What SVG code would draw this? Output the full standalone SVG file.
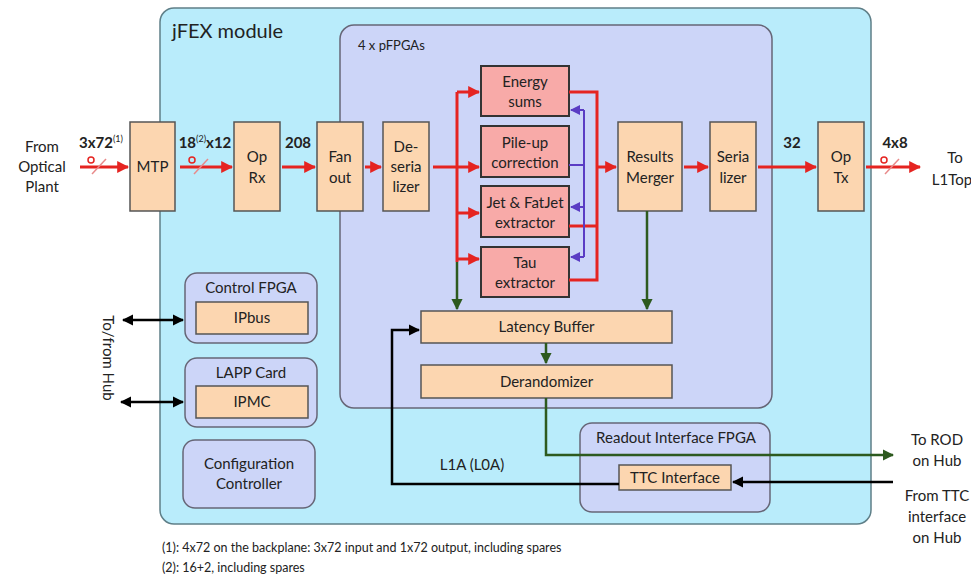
<svg xmlns="http://www.w3.org/2000/svg" width="971" height="578" viewBox="0 0 971 578">
<style>
text{font-family:Lato,"Open Sans","Liberation Sans",sans-serif;fill:#222;}
.lbl{font-size:15px;text-anchor:middle;}
.num{font-size:15px;font-weight:bold;text-anchor:middle;}
.peach{fill:#fcd6b0;stroke:#555;stroke-width:1.5;}
.pink{fill:#f8aaa8;stroke:#333;stroke-width:2;}
.grp{fill:#ccd5f8;stroke:#667;stroke-width:1.5;}
.red{stroke:#e52421;stroke-width:3;fill:none;}
.blue{stroke:#5a3cc4;stroke-width:2;fill:none;}
.green{stroke:#2d5a1f;stroke-width:2.5;fill:none;}
.blk{stroke:#000;stroke-width:2.5;fill:none;}
.slash{stroke:#e88a8a;stroke-width:1.5;fill:none;}
.ring{stroke:#e52421;stroke-width:1.5;fill:none;}
.foot{font-size:12.5px;}
</style>
<defs>
<marker id="ar" viewBox="0 0 10 10" refX="9" refY="5" markerWidth="4" markerHeight="4" orient="auto" markerUnits="strokeWidth"><path d="M0,0L10,5L0,10z" fill="#e52421"/></marker>
<marker id="ab" viewBox="0 0 10 10" refX="9" refY="5" markerWidth="5" markerHeight="5" orient="auto" markerUnits="strokeWidth"><path d="M0,0L10,5L0,10z" fill="#5a3cc4"/></marker>
<marker id="ag" viewBox="0 0 10 10" refX="9" refY="5" markerWidth="4.5" markerHeight="4.5" orient="auto" markerUnits="strokeWidth"><path d="M0,0L10,5L0,10z" fill="#2d5a1f"/></marker>
<marker id="ak" viewBox="0 0 10 10" refX="9" refY="5" markerWidth="4.5" markerHeight="4.5" orient="auto-start-reverse" markerUnits="strokeWidth"><path d="M0,0L10,5L0,10z" fill="#000"/></marker>
</defs>
<rect width="971" height="578" fill="#fff"/>
<g id="jfex-module">
<rect x="160" y="8" width="711" height="516" rx="14" fill="#b9ecfb" stroke="#5f7f88" stroke-width="1.5"/>
<text x="172" y="38" style="font-size:20px">jFEX module</text>
</g>
<g id="pfpgas">
<rect x="340" y="25" width="432" height="383" rx="14" class="grp"/>
<text x="358" y="50" style="font-size:13px">4 x pFPGAs</text>
</g>
<g id="mtp"><rect x="130" y="122" width="45" height="89" class="peach"/><text x="152.5" y="172" class="lbl">MTP</text></g>
<g id="oprx"><rect x="234" y="122" width="46" height="89" class="peach"/><text x="257" y="162" class="lbl">Op</text><text x="257" y="183" class="lbl">Rx</text></g>
<g id="fanout"><rect x="317" y="122" width="46" height="89" class="peach"/><text x="340" y="162" class="lbl">Fan</text><text x="340" y="183" class="lbl">out</text></g>
<g id="deserializer"><rect x="383" y="122" width="46" height="89" class="peach"/><text x="406" y="152" class="lbl">De-</text><text x="406" y="172" class="lbl">seria</text><text x="406" y="192" class="lbl">lizer</text></g>
<g id="energy"><rect x="481" y="66" width="88" height="50" class="pink"/><text x="525" y="87" class="lbl">Energy</text><text x="525" y="107" class="lbl">sums</text></g>
<g id="pileup"><rect x="481" y="126" width="88" height="51" class="pink"/><text x="525" y="148" class="lbl">Pile-up</text><text x="525" y="168" class="lbl">correction</text></g>
<g id="jet"><rect x="481" y="186" width="88" height="51" class="pink"/><text x="525" y="208" class="lbl">Jet &amp; FatJet</text><text x="525" y="228" class="lbl">extractor</text></g>
<g id="tau"><rect x="481" y="247" width="88" height="50" class="pink"/><text x="525" y="268" class="lbl">Tau</text><text x="525" y="288" class="lbl">extractor</text></g>
<g id="merger"><rect x="618" y="122" width="64" height="89" class="peach"/><text x="650" y="162" class="lbl">Results</text><text x="650" y="183" class="lbl">Merger</text></g>
<g id="serializer"><rect x="710" y="122" width="46" height="89" class="peach"/><text x="733" y="162" class="lbl">Seria</text><text x="733" y="183" class="lbl">lizer</text></g>
<g id="optx"><rect x="818" y="122" width="46" height="89" class="peach"/><text x="841" y="162" class="lbl">Op</text><text x="841" y="183" class="lbl">Tx</text></g>
<g id="latency"><rect x="421" y="311" width="251" height="32" class="peach"/><text x="546.5" y="332" class="lbl">Latency Buffer</text></g>
<g id="derandomizer"><rect x="421" y="365" width="251" height="33" class="peach"/><text x="546.5" y="387" class="lbl">Derandomizer</text></g>
<g id="control-fpga"><rect x="185" y="273" width="132" height="70" rx="12" class="grp"/><text x="251" y="293" class="lbl">Control FPGA</text>
<rect x="196" y="302" width="112" height="32" class="peach"/><text x="252" y="323" class="lbl">IPbus</text></g>
<g id="lapp-card"><rect x="185" y="358" width="132" height="69" rx="12" class="grp"/><text x="251" y="378" class="lbl">LAPP Card</text>
<rect x="196" y="386" width="112" height="32" class="peach"/><text x="252" y="407" class="lbl">IPMC</text></g>
<g id="config-controller"><rect x="183" y="440" width="132" height="68" rx="12" class="grp"/><text x="249" y="469" class="lbl">Configuration</text><text x="249" y="489" class="lbl">Controller</text></g>
<g id="readout-fpga"><rect x="580" y="423" width="190" height="89" rx="12" class="grp"/><text x="676" y="443" class="lbl">Readout Interface FPGA</text></g>
<g id="ttc"><rect x="619" y="465" width="112" height="25" class="peach"/><text x="675" y="483" class="lbl">TTC Interface</text></g>
<g id="connectors">
<line x1="80" y1="167" x2="128" y2="167" class="red" marker-end="url(#ar)"/>
<circle cx="91" cy="160" r="3" class="ring"/><line x1="92" y1="174" x2="106" y2="159" class="slash"/>
<line x1="180" y1="167" x2="232" y2="167" class="red" marker-end="url(#ar)"/>
<circle cx="192" cy="160" r="3" class="ring"/><line x1="194" y1="174" x2="208" y2="159" class="slash"/>
<line x1="282" y1="167" x2="315" y2="167" class="red" marker-end="url(#ar)"/>
<line x1="365" y1="167" x2="381" y2="167" class="red" marker-end="url(#ar)"/>
<line x1="433" y1="167" x2="479" y2="167" class="red" marker-end="url(#ar)"/>
<line x1="457" y1="92" x2="457" y2="262" class="red"/>
<line x1="457" y1="92" x2="479" y2="92" class="red" marker-end="url(#ar)"/>
<line x1="457" y1="213" x2="479" y2="213" class="red" marker-end="url(#ar)"/>
<line x1="457" y1="259" x2="479" y2="259" class="red" marker-end="url(#ar)"/>
<polyline points="569,92 597,92 597,280 569,280" class="red"/>
<line x1="569" y1="226" x2="597" y2="226" class="red"/>
<line x1="597" y1="167" x2="616" y2="167" class="red" marker-end="url(#ar)"/>
<polyline points="569,165 584,165 584,257" class="blue"/>
<line x1="584" y1="165" x2="584" y2="110" class="blue"/>
<line x1="584" y1="110" x2="571" y2="110" class="blue" marker-end="url(#ab)"/>
<line x1="584" y1="207" x2="571" y2="207" class="blue" marker-end="url(#ab)"/>
<line x1="584" y1="257" x2="571" y2="257" class="blue" marker-end="url(#ab)"/>
<line x1="684" y1="167" x2="708" y2="167" class="red" marker-end="url(#ar)"/>
<line x1="758" y1="167" x2="816" y2="167" class="red" marker-end="url(#ar)"/>
<line x1="866" y1="167" x2="920" y2="167" class="red" marker-end="url(#ar)"/>
<circle cx="884" cy="160" r="3" class="ring"/><line x1="885" y1="174" x2="899" y2="159" class="slash"/>
<line x1="457" y1="262" x2="457" y2="309" class="green" marker-end="url(#ag)"/>
<line x1="647" y1="211" x2="647" y2="309" class="green" marker-end="url(#ag)"/>
<line x1="546" y1="343" x2="546" y2="363" class="green" marker-end="url(#ag)"/>
<polyline points="546,398 546,455 893,455" class="green" marker-end="url(#ag)"/>
<polyline points="619,484 392,484 392,330 419,330" class="blk" marker-end="url(#ak)"/>
<line x1="893" y1="482" x2="733" y2="482" class="blk" marker-end="url(#ak)"/>
<line x1="123" y1="320" x2="183" y2="320" class="blk" marker-start="url(#ak)" marker-end="url(#ak)"/>
<line x1="121" y1="402" x2="183" y2="402" class="blk" marker-start="url(#ak)" marker-end="url(#ak)"/>
</g>
<g id="labels">
<text x="42" y="152" class="lbl">From</text>
<text x="42" y="172" class="lbl">Optical</text>
<text x="42" y="192" class="lbl">Plant</text>
<text x="101" y="148" class="num">3x72<tspan style="font-size:9px;font-weight:normal" dy="-6">(1)</tspan></text>
<text x="205" y="148" class="num">18<tspan style="font-size:9px;font-weight:normal" dy="-6">(2)</tspan><tspan dy="6">x12</tspan></text>
<text x="298" y="148" class="num">208</text>
<text x="792" y="148" class="num">32</text>
<text x="895" y="148" class="num">4x8</text>
<text x="955" y="163" class="lbl">To</text>
<text x="952" y="185" class="lbl">L1Top</text>
<text x="472" y="470" class="lbl">L1A (L0A)</text>
<text x="937" y="445" class="lbl">To ROD</text>
<text x="937" y="466" class="lbl">on Hub</text>
<text x="937" y="501" class="lbl">From TTC</text>
<text x="937" y="522" class="lbl">interface</text>
<text x="937" y="543" class="lbl">on Hub</text>
<text transform="translate(103,358) rotate(90)" class="lbl">To/from Hub</text>
<text x="162" y="552" class="foot">(1): 4x72 on the backplane: 3x72 input and 1x72 output, including spares</text>
<text x="162" y="572" class="foot">(2): 16+2, including spares</text>
</g>
</svg>
